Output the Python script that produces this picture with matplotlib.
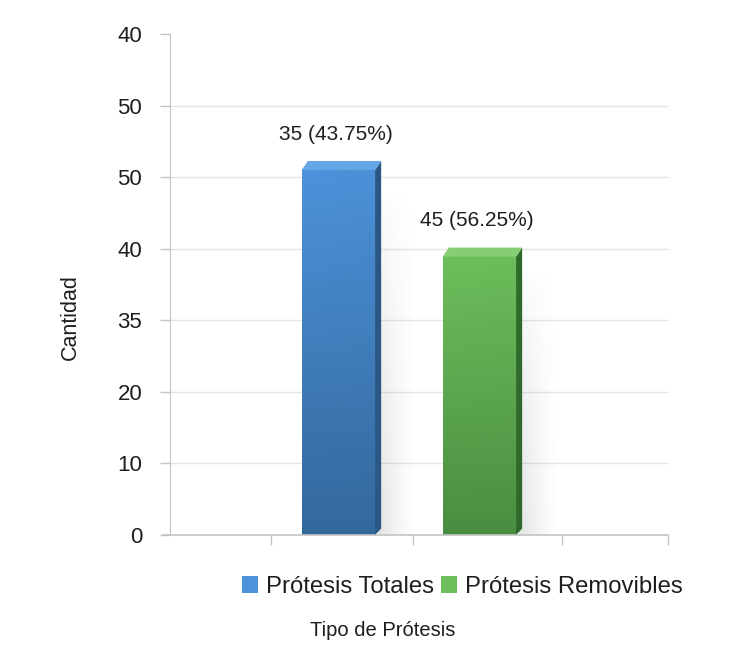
import numpy as np
import matplotlib
matplotlib.use("Agg")
import matplotlib.pyplot as plt
from matplotlib.colors import LinearSegmentedColormap
from matplotlib.patches import Polygon, Patch
from matplotlib.lines import Line2D

plt.rcParams['font.family'] = ['Liberation Sans', 'DejaVu Sans']

# Data
categories = ['Prótesis Totales', 'Prótesis Removibles']
counts = [35, 45]
percentages = [43.75, 56.25]
bar_heights = [51.0, 38.9]
y_tick_values = [0, 10, 20, 30, 40, 50, 60, 70]
y_tick_labels = ['0', '10', '20', '35', '40', '50', '50', '40']
x_tick_values = [-0.479, 0.528, 1.585, 2.337]

front_top = ['#4d92da', '#6dbe5c']
front_bottom = ['#33689c', '#4a8d41']
side_colors = ['#2b5785', '#2f6a2a']
top_colors = ['#65a6e6', '#86ce73']
text_color = '#1e1e1e'

W, H, DPI = 756, 669, 100
fig = plt.figure(figsize=(W / DPI, H / DPI), dpi=DPI)
ax = fig.add_axes([170 / W, 1 - 535 / H, 498 / W, 501 / H])

xlim = (-1.195, 2.337)
ylim = (0, 70)
bar_w = 0.52

# pixel -> data conversions
px_x = (xlim[1] - xlim[0]) / 498
px_y = (ylim[1] - ylim[0]) / 501
depth_x = 6 * px_x
depth_y = 9 * px_y

# grid
for v in y_tick_values[1:-1]:
    ax.axhline(v, color='#e4e4e4', lw=1.0, zorder=0)

for i, (h, ct, cb, cs, cto) in enumerate(zip(bar_heights, front_top, front_bottom,
                                              side_colors, top_colors)):
    x0, x1 = i - bar_w / 2, i + bar_w / 2

    # soft shadow to the right of the bar
    sw = 42
    alpha_x = np.linspace(0.28, 0.0, sw) ** 1.3
    alpha_y = np.linspace(0.0, 1.0, 120) ** 0.6
    a = np.outer(alpha_y[::-1], alpha_x)[::-1]
    rgba = np.zeros((120, sw, 4))
    rgba[..., :3] = 0.42
    rgba[..., 3] = a
    ax.imshow(rgba, extent=[x1 + depth_x * 0.5, x1 + sw * px_x, 0, h * 0.95],
              origin='upper', aspect='auto', zorder=1, interpolation='bilinear')

    # front face with vertical gradient
    cmap = LinearSegmentedColormap.from_list('g', [cb, ct])
    grad = np.linspace(0, 1, 256).reshape(-1, 1)
    grad = np.hstack([grad, grad * 0.97])
    ax.imshow(grad, extent=[x0, x1, 0, h], origin='lower', aspect='auto',
              cmap=cmap, zorder=3, interpolation='bilinear')

    # side face
    side = Polygon([(x1, 0), (x1 + depth_x, 0.9),
                    (x1 + depth_x, h + depth_y), (x1, h)],
                   closed=True, facecolor=cs, edgecolor='none', zorder=3)
    ax.add_patch(side)
    # top face
    top = Polygon([(x0, h), (x0 + depth_x, h + depth_y),
                   (x1 + depth_x, h + depth_y), (x1, h)],
                  closed=True, facecolor=cto, edgecolor='none', zorder=3)
    ax.add_patch(top)

    ax.text(i - 0.02, h + 5.0, f'{counts[i]} ({percentages[i]:.2f}%)',
            ha='center', va='center', fontsize=15, color=text_color, zorder=5)

ax.set_xlim(*xlim)
ax.set_ylim(*ylim)

for s in ['top', 'right']:
    ax.spines[s].set_visible(False)
ax.spines['left'].set_color('#c4c4c4')
ax.spines['bottom'].set_visible(False)
ax.add_line(Line2D([-0.015, 1.0], [0, 0], transform=ax.transAxes, color='#c4c4c4',
                   lw=1.2, clip_on=False, zorder=4))

ax.set_yticks(y_tick_values)
ax.set_yticklabels(y_tick_labels, fontsize=16, color=text_color)
ax.tick_params(axis='y', length=7, width=1, color='#c4c4c4', pad=13)
ax.set_xticks(x_tick_values)
ax.set_xticklabels([])
ax.tick_params(axis='x', length=7, width=1, color='#c4c4c4')

handles = [Patch(facecolor=front_top[0], edgecolor='none'),
           Patch(facecolor=front_top[1], edgecolor='none')]
fig.legend(handles, categories, loc='center', bbox_to_anchor=(462 / W, 1 - 587 / H),
           ncol=2, frameon=False, fontsize=17.2, handlelength=0.7, handleheight=0.7,
           handletextpad=0.3, columnspacing=0.3, labelcolor=text_color)

fig.text(383 / W, 1 - 631 / H, 'Tipo de Prótesis', ha='center', va='center',
         fontsize=14.5, color=text_color)
fig.text(70 / W, 1 - 317 / H, 'Cantidad', ha='center', va='center', rotation=90,
         fontsize=15.5, color=text_color)

fig.savefig('out.png', dpi=DPI)
